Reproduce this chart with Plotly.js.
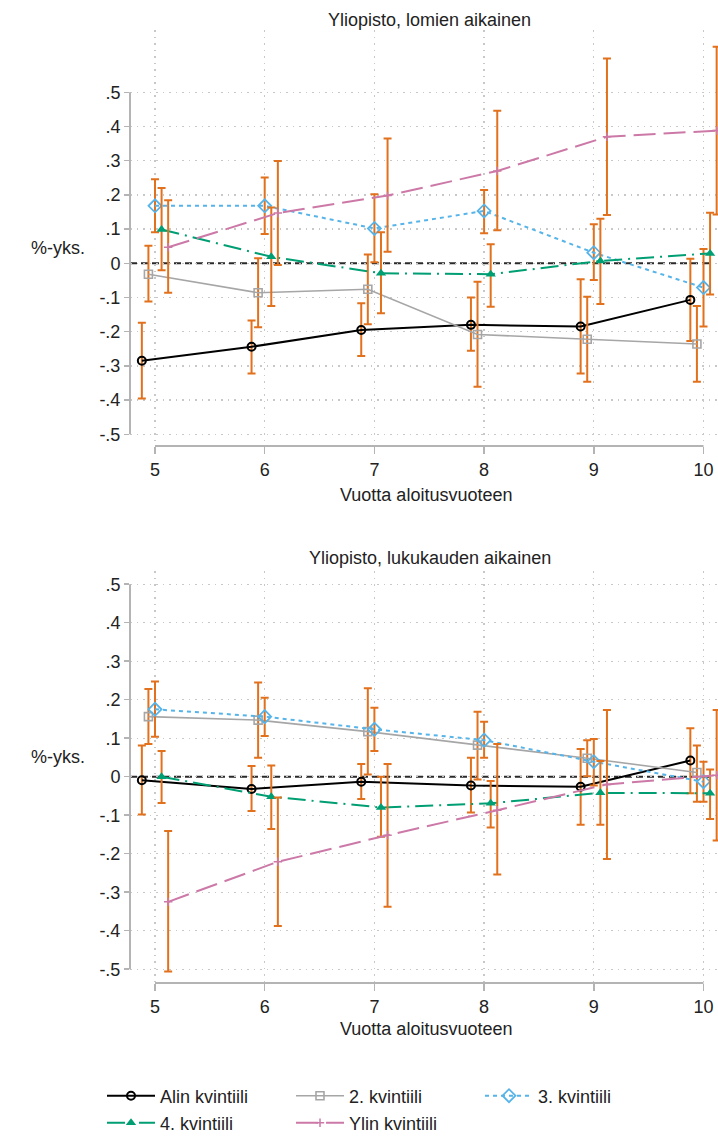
<!DOCTYPE html>
<html><head><meta charset="utf-8">
<script src="https://cdn.plot.ly/plotly-3.0.1.min.js"></script>
<style>html,body{margin:0;padding:0;background:#fff}#chart{width:718px;height:1141px}</style>
</head><body><div id="chart"></div>
<script>
// ---------- DATA ----------
const years = [5, 6, 7, 8, 9, 10];
const yTickVals = [-0.5, -0.4, -0.3, -0.2, -0.1, 0, 0.1, 0.2, 0.3, 0.4, 0.5];
const yTickText = ['-.5', '-.4', '-.3', '-.2', '-.1', '0', '.1', '.2', '.3', '.4', '.5'];
const seriesNames = ['Alin kvintiili', '2. kvintiili', '3. kvintiili', '4. kvintiili', 'Ylin kvintiili'];

// Panel 1: Yliopisto, lomien aikainen
const top_alin    = [-0.285, -0.244, -0.195, -0.180, -0.185, -0.107];
const top_alin_lo = [-0.395, -0.322, -0.271, -0.256, -0.322, -0.227];
const top_alin_hi = [-0.174, -0.167, -0.117, -0.100, -0.047, 0.013];
const top_k2      = [-0.032, -0.086, -0.076, -0.208, -0.222, -0.236];
const top_k2_lo   = [-0.112, -0.187, -0.178, -0.361, -0.346, -0.346];
const top_k2_hi   = [0.051, 0.015, 0.026, -0.054, -0.098, -0.125];
const top_k3      = [0.168, 0.168, 0.102, 0.153, 0.031, -0.071];
const top_k3_lo   = [0.091, 0.086, 0.003, 0.088, -0.049, -0.185];
const top_k3_hi   = [0.246, 0.251, 0.202, 0.214, 0.114, 0.042];
const top_k4      = [0.099, 0.019, -0.029, -0.032, 0.007, 0.029];
const top_k4_lo   = [-0.020, -0.125, -0.146, -0.127, -0.119, -0.091];
const top_k4_hi   = [0.220, 0.163, 0.091, 0.056, 0.130, 0.148];
const top_ylin    = [0.047, 0.147, 0.198, 0.270, 0.370, 0.388];
const top_ylin_lo = [-0.086, -0.005, 0.034, 0.097, 0.141, 0.143];
const top_ylin_hi = [0.184, 0.299, 0.365, 0.446, 0.599, 0.633];

// Panel 2: Yliopisto, lukukauden aikainen
const bot_alin    = [-0.009, -0.032, -0.013, -0.023, -0.026, 0.042];
const bot_alin_lo = [-0.098, -0.089, -0.058, -0.093, -0.125, -0.043];
const bot_alin_hi = [0.081, 0.028, 0.033, 0.049, 0.072, 0.126];
const bot_k2      = [0.156, 0.147, 0.117, 0.082, 0.048, 0.011];
const bot_k2_lo   = [0.085, 0.049, 0.006, -0.007, 0.001, -0.065];
const bot_k2_hi   = [0.228, 0.245, 0.230, 0.169, 0.095, 0.081];
const bot_k3      = [0.175, 0.156, 0.123, 0.095, 0.039, -0.013];
const bot_k3_lo   = [0.104, 0.106, 0.067, 0.049, -0.023, -0.065];
const bot_k3_hi   = [0.247, 0.205, 0.179, 0.143, 0.098, 0.039];
const bot_k4      = [0.000, -0.052, -0.080, -0.069, -0.042, -0.043];
const bot_k4_lo   = [-0.068, -0.136, -0.156, -0.132, -0.125, -0.110];
const bot_k4_hi   = [0.067, 0.029, 0.000, -0.011, 0.041, 0.019];
const bot_ylin    = [-0.325, -0.221, -0.152, -0.087, -0.020, 0.004];
const bot_ylin_lo = [-0.506, -0.388, -0.338, -0.254, -0.214, -0.166];
const bot_ylin_hi = [-0.141, -0.054, 0.033, 0.085, 0.173, 0.173];

// ---------- STYLE ----------
const W = 718, H = 1141;
const FONT = 'Liberation Sans, Arial, sans-serif';
const FS = 18;
const CI_COLOR = '#E2711D';
const dodge = [-0.12, -0.06, 0, 0.06, 0.12];
const styles = [
  {line: {color: '#000000', width: 2, dash: 'solid'}, marker: {symbol: 'circle-open', size: 8, color: '#000000', line: {width: 2}}},
  {line: {color: '#a6a6a6', width: 1.6, dash: 'solid'}, marker: {symbol: 'square-open', size: 8, color: '#a6a6a6', line: {width: 1.6}}},
  {line: {color: '#56B4E9', width: 2, dash: '4px,4px'}, marker: {symbol: 'diamond-open', size: 10, color: '#56B4E9', line: {width: 1.8}}},
  {line: {color: '#009E73', width: 2, dash: '18px,6px,2px,6px'}, marker: {symbol: 'triangle-up', size: 9, color: '#009E73', line: {width: 0}}},
  {line: {color: '#CC79A7', width: 2, dash: '22px,8px'}, marker: {symbol: 'cross-thin-open', size: 6, color: '#CC79A7', line: {width: 1.5, color: '#CC79A7'}}}
];
const legendOf = ['legend', 'legend', 'legend', 'legend2', 'legend2'];

const px = v => v / W;          // x pixel -> paper
const py = v => 1 - v / H;      // y pixel -> paper

const panels = [
  {vals: [top_alin, top_k2, top_k3, top_k4, top_ylin],
   lo: [top_alin_lo, top_k2_lo, top_k3_lo, top_k4_lo, top_ylin_lo],
   hi: [top_alin_hi, top_k2_hi, top_k3_hi, top_k4_hi, top_ylin_hi],
   xa: 'x', ya: 'y'},
  {vals: [bot_alin, bot_k2, bot_k3, bot_k4, bot_ylin],
   lo: [bot_alin_lo, bot_k2_lo, bot_k3_lo, bot_k4_lo, bot_ylin_lo],
   hi: [bot_alin_hi, bot_k2_hi, bot_k3_hi, bot_k4_hi, bot_ylin_hi],
   xa: 'x2', ya: 'y2'}
];

const traces = [];
panels.forEach((p, pi) => {
  p.vals.forEach((v, si) => {
    traces.push({
      type: 'scatter', mode: 'lines+markers',
      x: years.map(yr => yr + dodge[si]), y: v,
      xaxis: p.xa, yaxis: p.ya,
      name: seriesNames[si],
      legend: legendOf[si],
      showlegend: pi === 0,
      line: styles[si].line, marker: styles[si].marker,
      cliponaxis: false,
      error_y: {type: 'data', symmetric: false,
        array: v.map((m, i) => p.hi[si][i] - m),
        arrayminus: v.map((m, i) => m - p.lo[si][i]),
        color: CI_COLOR, thickness: 2, width: 4}
    });
  });
});

const plotL = 130, plotR = 718;
const topT = 30, topB = 446, botT = 571, botB = 983;
const xRange = [5 - (155 - plotL) / 109.7, 5 + (plotR - 155) / 109.7];

const GRID = {showgrid: true, gridcolor: '#c8c8c8', griddash: '1.5px,5px', gridwidth: 1.3};
function xAxis(anchor) {
  return Object.assign({domain: [px(plotL), px(plotR)], anchor: anchor, range: xRange,
    tickvals: years, ticktext: years.map(String),
    zeroline: false, showline: false,
    ticks: 'outside', ticklen: 7, tickwidth: 1.5, tickcolor: '#b4b4b4',
    tickfont: {family: FONT, size: FS, color: '#222'}, fixedrange: true}, GRID);
}
function yAxis(domain, range, anchor) {
  return Object.assign({domain: domain, anchor: anchor, range: range,
    tickvals: yTickVals, ticktext: yTickText,
    zeroline: false, showline: false,
    ticks: 'outside', ticklen: 5, tickwidth: 1.5, tickcolor: '#b4b4b4',
    tickfont: {family: FONT, size: FS, color: '#222'}, fixedrange: true}, GRID);
}

const topRange = [-(topB - 263.3) / 342, (263.3 - topT) / 342];
const botRange = [-(botB - 776.7) / 385, (776.7 - botT) / 385];

const axisGray = '#b4b4b4';
const shapes = [];
[['x', 'y', topB], ['x2', 'y2', botB]].forEach(([xa, ya, bpx]) => {
  shapes.push({type: 'line', xref: xa, yref: 'paper', x0: 5, x1: 10, y0: py(bpx), y1: py(bpx),
    line: {color: axisGray, width: 2}, layer: 'above'});
  shapes.push({type: 'line', xref: 'paper', yref: ya, x0: px(plotL), x1: px(plotL), y0: -0.5, y1: 0.5,
    line: {color: axisGray, width: 2}, layer: 'above'});
  shapes.push({type: 'line', xref: 'paper', yref: ya, x0: px(plotL), x1: px(713), y0: 0, y1: 0,
    line: {color: '#2a2a2a', width: 2, dash: '7px,4px'}, layer: 'between'});
});

const annFont = {family: FONT, size: FS, color: '#222'};
const annotations = [
  {text: 'Yliopisto, lomien aikainen', x: px(430), y: py(20)},
  {text: 'Vuotta aloitusvuoteen', x: px(426), y: py(495)},
  {text: '%-yks.', x: px(58), y: py(248)},
  {text: 'Yliopisto, lukukauden aikainen', x: px(430), y: py(558)},
  {text: 'Vuotta aloitusvuoteen', x: px(426), y: py(1029)},
  {text: '%-yks.', x: px(58), y: py(757)}
].map(a => Object.assign({xref: 'paper', yref: 'paper', xanchor: 'center', yanchor: 'middle',
  showarrow: false, font: annFont}, a));

const legendBase = {orientation: 'h', xanchor: 'left', yanchor: 'middle', x: px(102),
  font: {family: FONT, size: FS, color: '#222'}, bgcolor: 'rgba(0,0,0,0)',
  itemwidth: 48, entrywidth: 126, entrywidthmode: 'pixels', traceorder: 'normal',
  itemclick: false, itemdoubleclick: false};

const layout = {
  width: W, height: H, margin: {l: 0, r: 0, t: 0, b: 0, autoexpand: false},
  paper_bgcolor: '#fff', plot_bgcolor: '#fff',
  font: {family: FONT, color: '#222'},
  showlegend: true,
  xaxis: xAxis('y'),
  yaxis: yAxis([py(topB), py(topT)], topRange, 'x'),
  xaxis2: xAxis('y2'),
  yaxis2: yAxis([py(botB), py(botT)], botRange, 'x2'),
  legend: Object.assign({}, legendBase, {y: py(1096)}),
  legend2: Object.assign({}, legendBase, {y: py(1123)}),
  shapes: shapes, annotations: annotations
};

Plotly.newPlot('chart', traces, layout, {staticPlot: true, displayModeBar: false});
</script></body></html>
